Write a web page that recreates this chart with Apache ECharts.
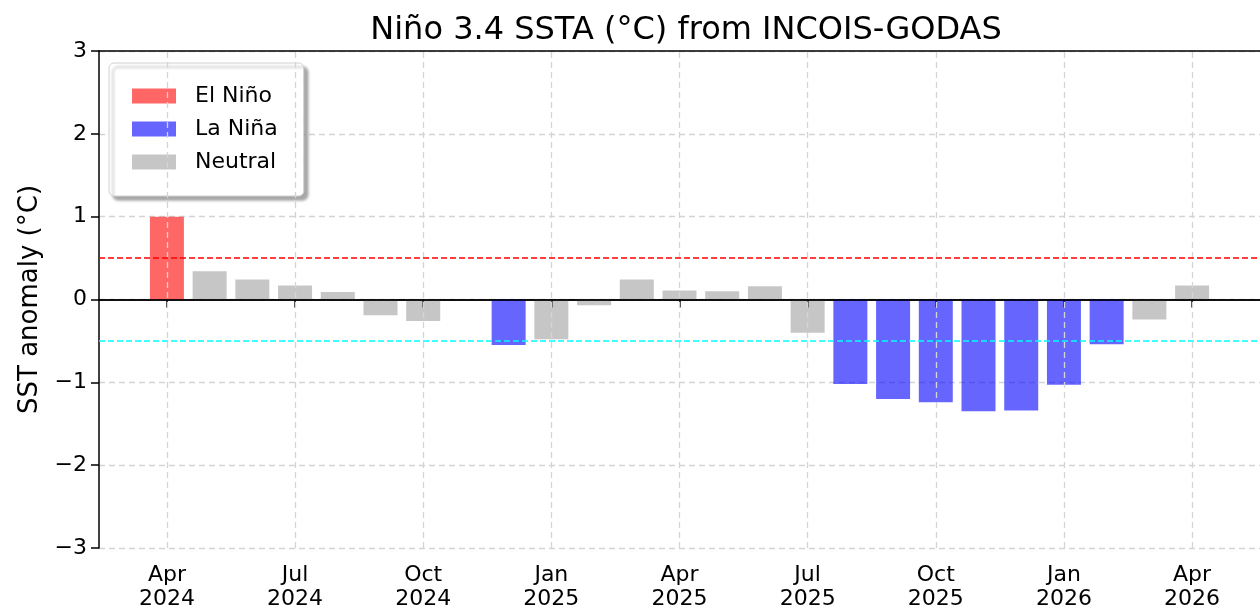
<!DOCTYPE html>
<html>
<head>
<meta charset="utf-8">
<script src="https://cdn.jsdelivr.net/npm/echarts@6/dist/echarts.min.js"></script>
<style>html,body{margin:0;padding:0;background:#fff}#c{width:1260px;height:611px}</style>
</head>
<body>
<div id="c"></div>
<script>
// Months indexed from Apr 2024 (index 0) to Apr 2026 (index 24)
const months = ['Apr 2024','May 2024','Jun 2024','Jul 2024','Aug 2024','Sep 2024','Oct 2024','Nov 2024','Dec 2024',
  'Jan 2025','Feb 2025','Mar 2025','Apr 2025','May 2025','Jun 2025','Jul 2025','Aug 2025','Sep 2025','Oct 2025',
  'Nov 2025','Dec 2025','Jan 2026','Feb 2026','Mar 2026','Apr 2026'];
const ssta = [1.00, 0.34, 0.24, 0.17, 0.09, -0.19, -0.26, null, -0.55,
  -0.48, -0.07, 0.24, 0.11, 0.10, 0.16, -0.40, -1.02, -1.20, -1.24,
  -1.35, -1.34, -1.03, -0.54, -0.24, 0.17];
const tickIndex = [0, 3, 6, 9, 12, 15, 18, 21, 24];
const tickLabels = ['Apr\n2024','Jul\n2024','Oct\n2024','Jan\n2025','Apr\n2025','Jul\n2025','Oct\n2025','Jan\n2026','Apr\n2026'];
const yTicks = [-3, -2, -1, 0, 1, 2, 3];
const thresholds = [0.5, -0.5];

const font = 'DejaVu Sans';
const elnino = [], lanina = [], neutral = [];
ssta.forEach((v, i) => {
  if (v === null) return;
  if (v >= 0.5) elnino.push([i, v]);
  else if (v <= -0.5) lanina.push([i, v]);
  else neutral.push([i, v]);
});
const xMin = -1.59, xMax = 25.59;
const gridDash = {color: '#d4d4d4', width: 1.3, type: [6, 4]};

const chart = echarts.init(document.getElementById('c'));
chart.setOption({
  animation: false,
  textStyle: {fontFamily: font},
  title: {
    text: 'Niño 3.4 SSTA (°C) from INCOIS-GODAS',
    left: 681, textAlign: 'center', top: 10,
    textStyle: {fontFamily: font, fontSize: 32, fontWeight: 'normal', color: '#000'}
  },
  legend: {
    orient: 'vertical', left: 109, top: 63,
    padding: [22, 26, 23, 23],
    itemWidth: 44, itemHeight: 15, itemGap: 11,
    icon: 'rect',
    backgroundColor: '#fff', borderColor: '#d0d0d0', borderWidth: 1, borderRadius: 5,
    shadowColor: 'rgba(0,0,0,0.35)', shadowBlur: 3, shadowOffsetX: 4, shadowOffsetY: 4,
    textStyle: {fontFamily: font, fontSize: 22, color: '#000', lineHeight: 21, padding: [0, 0, 0, 14]},
    data: ['El Niño', 'La Niña', 'Neutral']
  },
  grid: {left: 99, right: 0, top: 51, bottom: 61, containLabel: false},
  xAxis: [{
    type: 'value', min: xMin, max: xMax, position: 'bottom',
    axisLine: {show: true, lineStyle: {color: '#000', width: 1.5}},
    axisTick: {show: true, customValues: tickIndex, length: 8, lineStyle: {color: '#000', width: 1.5}},
    axisLabel: {show: true, customValues: tickIndex, margin: 15, fontSize: 22, color: '#000', lineHeight: 24, fontFamily: font,
      formatter: v => tickLabels[tickIndex.indexOf(Math.round(v))] || ''},
    splitLine: {show: false}
  }, {
    type: 'value', min: xMin, max: xMax, position: 'top',
    axisLine: {show: true, onZero: false, lineStyle: {color: '#000', width: 1.5}},
    axisTick: {show: false}, axisLabel: {show: false}, splitLine: {show: false}
  }],
  yAxis: {
    type: 'value', min: -3, max: 3, interval: 1,
    name: 'SST anomaly (°C)', nameLocation: 'middle', nameGap: 56, nameRotate: 90,
    nameTextStyle: {fontFamily: font, fontSize: 26, color: '#000'},
    axisLine: {show: true, onZero: false, lineStyle: {color: '#000', width: 1.5}},
    axisTick: {show: true, length: 8, lineStyle: {color: '#000', width: 1.5}},
    axisLabel: {margin: 12, fontSize: 22, color: '#000', fontFamily: font,
      formatter: v => (v < 0 ? '\u2212' + Math.abs(v) : String(v))},
    splitLine: {show: true, lineStyle: gridDash}
  },
  series: [
    {
      type: 'line', data: [], z: 1, silent: true,
      markLine: {silent: true, symbol: 'none', label: {show: false}, animation: false,
        lineStyle: gridDash,
        data: tickIndex.map(t => ({xAxis: t}))}
    },
    {name: 'El Niño', type: 'bar', data: elnino, barWidth: 34, barGap: '-100%', z: 2,
      itemStyle: {color: 'rgba(255,0,0,0.6)'}},
    {name: 'La Niña', type: 'bar', data: lanina, barWidth: 34, barGap: '-100%', z: 2,
      itemStyle: {color: 'rgba(0,0,255,0.6)'}},
    {name: 'Neutral', type: 'bar', data: neutral, barWidth: 34, barGap: '-100%', z: 2,
      itemStyle: {color: 'rgba(128,128,128,0.45)'}},
    {
      type: 'line', data: [], z: 3, silent: true,
      markLine: {silent: true, symbol: 'none', label: {show: false}, animation: false,
        data: [
          {yAxis: 0, lineStyle: {color: '#000', width: 1.5, type: 'solid'}},
          {yAxis: thresholds[0], lineStyle: {color: '#ff0000', width: 1.5, type: [6, 3]}},
          {yAxis: thresholds[1], lineStyle: {color: '#00ffff', width: 1.5, type: [6, 3]}}
        ]}
    }
  ]
});
</script>
</body>
</html>
